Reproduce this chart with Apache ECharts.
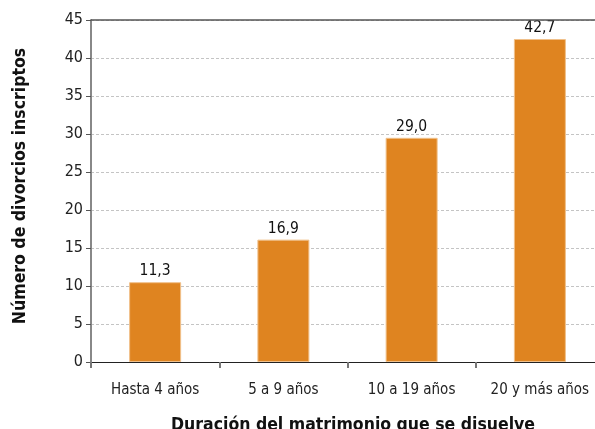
<!DOCTYPE html>
<html>
<head>
<meta charset="utf-8">
<script src="https://cdn.jsdelivr.net/npm/echarts@6/dist/echarts.min.js"></script>
<style>
html,body{margin:0;padding:0;background:#fff;}
#chart{width:595px;height:429px;}
</style>
</head>
<body>
<div id="chart"></div>
<script>
const categories = ["Hasta 4 años", "5 a 9 años", "10 a 19 años", "20 y más años"];
const barValues = [10.5, 16.1, 29.5, 42.5];
const valueLabels = ["11,3", "16,9", "29,0", "42,7"];
const yTicks = [0, 5, 10, 15, 20, 25, 30, 35, 40, 45];

const FONT = "DejaVu Sans Condensed";
const chart = echarts.init(document.getElementById('chart'), null, {renderer: 'canvas'});
chart.setOption({
  animation: false,
  backgroundColor: '#fff',
  grid: {left: 91, top: 20, width: 513, height: 342, containLabel: false, outerBoundsMode: 'none'},
  xAxis: {
    type: 'category',
    data: categories,
    boundaryGap: true,
    axisLine: {show: true, lineStyle: {color: '#222', width: 1}},
    axisTick: {show: true, alignWithLabel: false, length: 6, lineStyle: {color: '#777', width: 2}},
    axisLabel: {color: '#222', fontFamily: FONT, fontSize: 15, margin: 21},
    name: 'Duración del matrimonio que se disuelve',
    nameLocation: 'middle',
    nameGap: 54,
    nameTextStyle: {color: '#111', fontFamily: FONT, fontSize: 17.5, fontWeight: 'bold', padding: [0, 0, 0, 11]}
  },
  yAxis: {
    type: 'value',
    min: yTicks[0],
    max: yTicks[yTicks.length - 1],
    interval: 5,
    axisLine: {show: true, lineStyle: {color: '#888', width: 2}},
    axisTick: {show: true, length: 5, lineStyle: {color: '#555', width: 1}},
    axisLabel: {color: '#222', fontFamily: FONT, fontSize: 16, margin: 8},
    splitLine: {show: true, lineStyle: {color: '#c4c4c4', type: [3, 2], width: 1}},
    name: 'Número de divorcios inscriptos',
    nameLocation: 'middle',
    nameGap: 62,
    nameTextStyle: {color: '#111', fontFamily: FONT, fontSize: 17.5, fontWeight: 'bold', padding: [0, 0, 0, 10]}
  },
  series: [{
    type: 'bar',
    data: barValues,
    barWidth: 52,
    itemStyle: {color: '#DF8420', borderColor: '#F0C08A', borderWidth: 1},
    label: {
      show: true,
      position: 'top',
      distance: 3,
      color: '#111',
      fontFamily: FONT,
      fontSize: 15.5,
      formatter: p => valueLabels[p.dataIndex]
    },
    markLine: {
      silent: true,
      symbol: 'none',
      label: {show: false},
      lineStyle: {color: '#555', type: 'solid', width: 1.5},
      data: [{yAxis: yTicks[yTicks.length - 1]}]
    }
  }]
});
</script>
</body>
</html>
